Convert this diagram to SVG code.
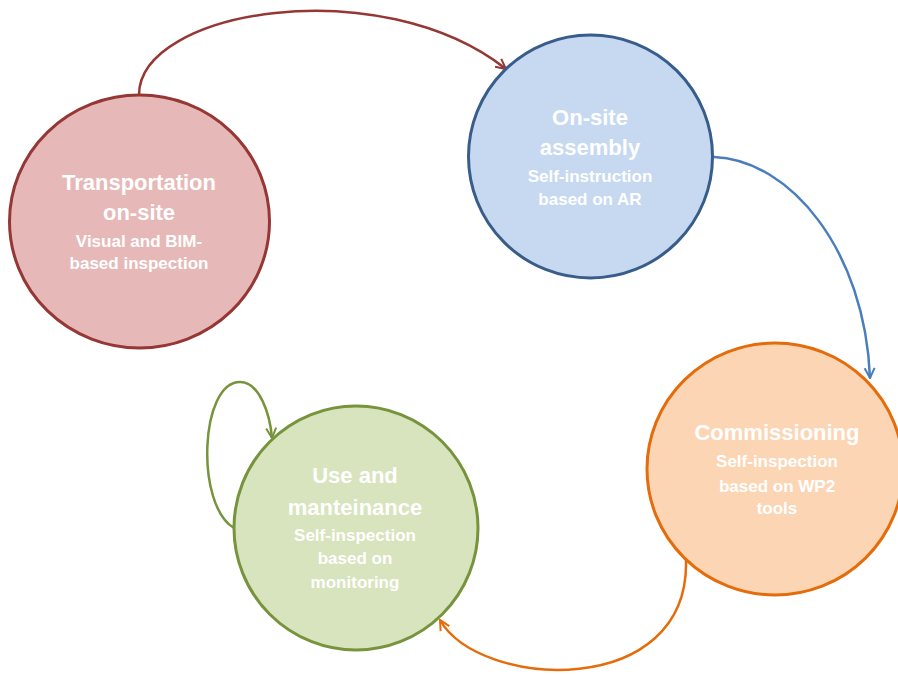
<svg xmlns="http://www.w3.org/2000/svg" width="898" height="675" viewBox="0 0 898 675">
<style>
.t{font-family:"Liberation Sans",Arial,sans-serif;font-weight:bold;fill:#ffffff;text-anchor:middle}
.h{font-size:22px}
.s{font-size:17px}
.node{stroke-width:3}
.conn{fill:none;stroke-width:2.5}
</style>
<defs>
<marker id="aR" viewBox="0 0 10 10" refX="9" refY="5" markerWidth="5" markerHeight="5" orient="auto" markerUnits="strokeWidth"><polyline points="1,1 9,5 1,9" fill="none" stroke="#953735" stroke-width="1.6"/></marker>
<marker id="aB" viewBox="0 0 10 10" refX="9" refY="5" markerWidth="5" markerHeight="5" orient="auto" markerUnits="strokeWidth"><polyline points="1,1 9,5 1,9" fill="none" stroke="#4a7ebb" stroke-width="1.6"/></marker>
<marker id="aO" viewBox="0 0 10 10" refX="9" refY="5" markerWidth="5" markerHeight="5" orient="auto" markerUnits="strokeWidth"><polyline points="1,1 9,5 1,9" fill="none" stroke="#e46c0a" stroke-width="1.6"/></marker>
<marker id="aG" viewBox="0 0 10 10" refX="9" refY="5" markerWidth="5" markerHeight="5" orient="auto" markerUnits="strokeWidth"><polyline points="1,1 9,5 1,9" fill="none" stroke="#77933c" stroke-width="1.6"/></marker>
</defs>
<rect width="898" height="675" fill="#ffffff"/>
<g id="connectors">
<path class="conn" stroke="#953735" d="M139,95 C139,10 380,-30 506,69" marker-end="url(#aR)"/>
<path class="conn" stroke="#4a7ebb" d="M714,157 C790,160 865,250 870,378" marker-end="url(#aB)"/>
<path class="conn" stroke="#e46c0a" d="M686,560 C690,700 480,690 440,620" marker-end="url(#aO)"/>
<path class="conn" stroke="#77933c" d="M234,528 C195,505 200,382 240,382 C260,382 270,415 272,438" marker-end="url(#aG)"/>
</g>
<g id="transportation">
<ellipse class="node" cx="139.5" cy="221.5" rx="130" ry="126.5" fill="#e6b9b8" stroke="#953735"/>
<text class="t h" x="139" y="190">Transportation</text>
<text class="t h" x="139" y="220">on-site</text>
<text class="t s" x="139" y="247">Visual and BIM-</text>
<text class="t s" x="139" y="269">based inspection</text>
</g>
<g id="assembly">
<ellipse class="node" cx="590.5" cy="156.5" rx="122" ry="121.5" fill="#c6d9f1" stroke="#385d8a"/>
<text class="t h" x="590" y="125">On-site</text>
<text class="t h" x="590" y="155">assembly</text>
<text class="t s" x="590" y="182">Self-instruction</text>
<text class="t s" x="590" y="205">based on AR</text>
</g>
<g id="commissioning">
<ellipse class="node" cx="775" cy="469" rx="128" ry="126" fill="#fcd5b5" stroke="#e46c0a"/>
<text class="t h" x="777" y="440">Commissioning</text>
<text class="t s" x="777" y="467">Self-inspection</text>
<text class="t s" x="777" y="492">based on WP2</text>
<text class="t s" x="777" y="514">tools</text>
</g>
<g id="maintenance">
<ellipse class="node" cx="356" cy="528" rx="122" ry="122" fill="#d7e4bd" stroke="#77933c"/>
<text class="t h" x="355" y="483">Use and</text>
<text class="t h" x="355" y="515">manteinance</text>
<text class="t s" x="355" y="541">Self-inspection</text>
<text class="t s" x="355" y="564">based on</text>
<text class="t s" x="355" y="588">monitoring</text>
</g>
</svg>
